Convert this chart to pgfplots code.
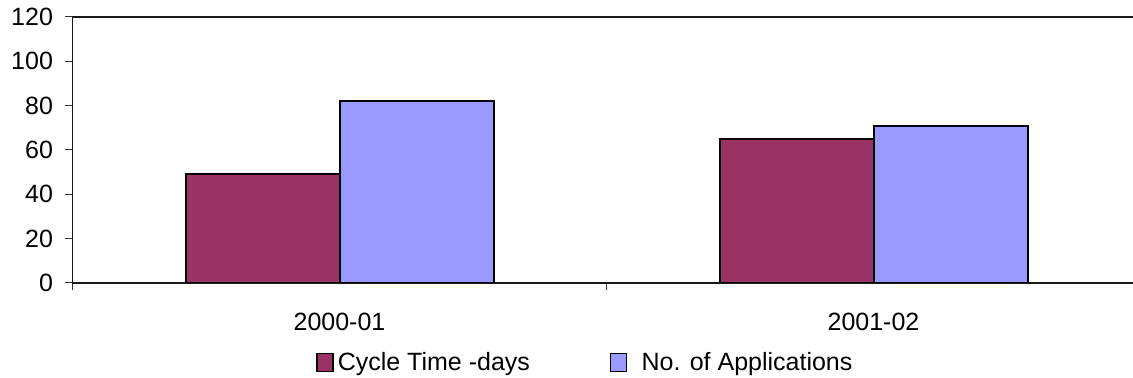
\documentclass[border=0pt]{standalone}
\usepackage{pgfplots}
\pgfplotsset{compat=1.18}
\usepackage{fontspec}
\setmainfont{Liberation Sans}
\usetikzlibrary{calc}
\definecolor{barA}{HTML}{993366}
\definecolor{barB}{HTML}{9999FF}
\begin{document}
\begin{tikzpicture}
\begin{axis}[
  scale only axis, width=534pt, height=133pt,
  xmin=-0.5, xmax=1.5, ymin=0, ymax=120,
  ytick={0,20,...,120},
  xtick={-0.5,0.5,1.5}, xticklabels={2000-01,2001-02},
  x tick label as interval,
  tick align=outside, xtick pos=lower, ytick pos=left,
  major tick length=3.75pt,
  tick style={black!80, line width=0.5pt},
  axis line style={black!90, line width=0.6pt},
  ticklabel style={font=\fontsize{12.5}{15}\selectfont},
  /pgf/number format/assume math mode=true,
  yticklabel style={xshift=-2.5pt},
  xticklabel style={yshift=-7.5pt},
  ybar=0pt, bar width=77pt,
  legend columns=2,
  legend cell align=left,
  legend style={at={(0.228,-0.30)}, anchor=west, draw=none, inner sep=0pt,
    font=\fontsize{12.5}{15}\selectfont,
    /tikz/every even column/.append style={column sep=38pt}},
]
\coordinate (bl) at (rel axis cs:0,0);
\addplot[fill=barA, draw=black, line width=1pt,
  legend image code/.code={\draw[fill=barA,draw=black,line width=0.7pt] (0pt,-4.5pt) rectangle (8pt,4.5pt);}]
  coordinates {(0,49) (1,65)};
\addlegendentry{Cycle Time -days}
\addplot[fill=barB, draw=black, line width=1pt,
  legend image code/.code={\draw[fill=barB,draw=black,line width=0.7pt] (0pt,-4.5pt) rectangle (8pt,4.5pt); \path (13pt,0pt);}]
  coordinates {(0,82) (1,71)};
\addlegendentry{No. of Applications}
\end{axis}
\pgfresetboundingbox
\useasboundingbox ($(bl)+(-36.25pt,-47.5pt)$) rectangle ($(bl)+(530.25pt,141.5pt)$);
\end{tikzpicture}
\end{document}
